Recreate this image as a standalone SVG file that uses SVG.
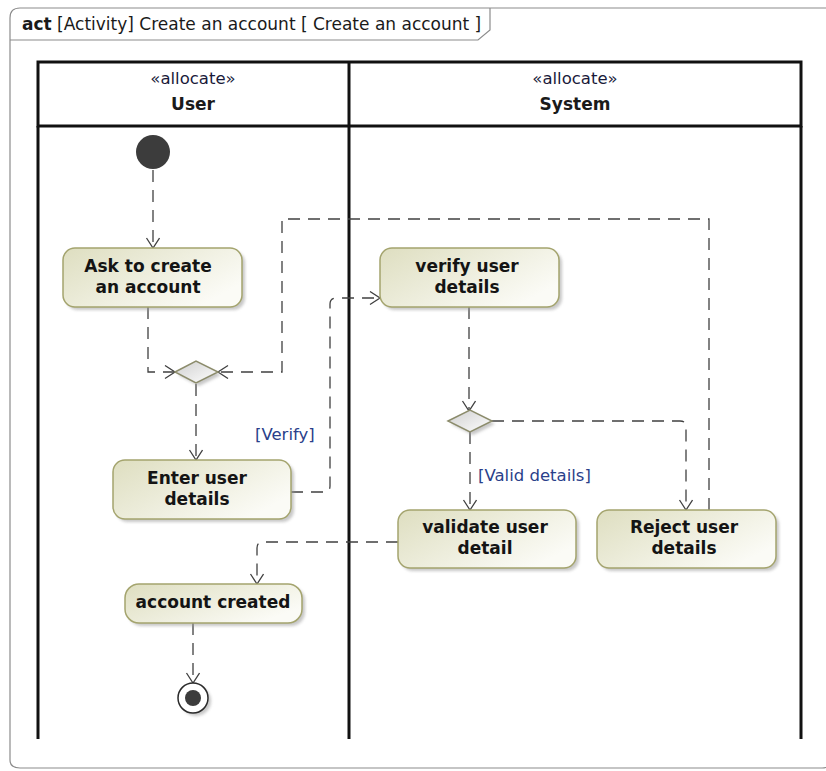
<svg xmlns="http://www.w3.org/2000/svg" width="826" height="771" viewBox="0 0 826 771">
<defs>
<linearGradient id="nodeGrad" x1="0" y1="0" x2="1" y2="0.6">
<stop offset="0" stop-color="#dedec0"/>
<stop offset="1" stop-color="#fbfbf6"/>
</linearGradient>
<linearGradient id="diaGrad" x1="0" y1="0" x2="1" y2="1">
<stop offset="0" stop-color="#cfcfcf"/>
<stop offset="1" stop-color="#ffffff"/>
</linearGradient>
<filter id="shadow" x="-10%" y="-10%" width="130%" height="140%">
<feGaussianBlur stdDeviation="1.5"/>
</filter>
<marker id="arrow" markerWidth="16" markerHeight="16" refX="11" refY="7" orient="auto" markerUnits="userSpaceOnUse">
<path d="M1,0.5 L11,7 L1,13.5" fill="none" stroke="#404040" stroke-width="1.3" stroke-dasharray="none"/>
</marker>
</defs>
<style>
.frame{fill:#ffffff;stroke:#8c8c8c;stroke-width:1.2}
.lane{fill:none;stroke:#111111;stroke-width:3}
.title{font-family:"DejaVu Sans",Verdana,sans-serif;font-size:17px;fill:#1a1a1a}
.stereo{font-family:"DejaVu Sans",Verdana,sans-serif;font-size:16.5px;fill:#1a1a3a;text-anchor:middle}
.lanename{font-family:"DejaVu Sans",Verdana,sans-serif;font-size:17px;font-weight:bold;fill:#1a1a1a;text-anchor:middle}
.node rect.body{fill:url(#nodeGrad);stroke:#a4a46e;stroke-width:1.5}
.node rect.sh{fill:#9a9a9a;opacity:0.55;filter:url(#shadow)}
.ntext{font-family:"DejaVu Sans",Verdana,sans-serif;font-size:17px;font-weight:bold;fill:#141414;text-anchor:middle}
.dia{fill:url(#diaGrad);stroke:#8c8c6c;stroke-width:1.5}
.diash{fill:#9a9a9a;opacity:0.55;filter:url(#shadow)}
.edge{fill:none;stroke:#404040;stroke-width:1.3;stroke-dasharray:12 8;marker-end:url(#arrow)}
.guard{font-family:"DejaVu Sans",Verdana,sans-serif;font-size:16.5px;fill:#2a3f8a}
</style>

<g id="frame">
<path class="frame" d="M10,760 L10,18 Q10,8 20,8 L830,8 L830,760 Q830,768 822,768 L20,768 Q10,768 10,760 Z"/>
<path fill="none" stroke="#8c8c8c" stroke-width="1.2" d="M10,40 L478,40 L490,30 L490,8"/>
<text class="title" x="22" y="30"><tspan font-weight="bold">act</tspan> [Activity] Create an account [ Create an account ]</text>
</g>

<g id="lanes">
<rect class="lane" x="38" y="62" width="763" height="64" fill="none"/>
<path class="lane" d="M38,126 L38,739 M349,62 L349,739 M801,126 L801,739"/>
<text class="stereo" x="193" y="84">«allocate»</text>
<text class="lanename" x="193" y="110">User</text>
<text class="stereo" x="575" y="84">«allocate»</text>
<text class="lanename" x="575" y="110">System</text>
</g>

<g id="edges">
<path class="edge" d="M153,170 L153,248"/>
<path class="edge" d="M148,307 L148,372 L175,372"/>
<path class="edge" d="M709,510 L709,219 L282,219 L282,372 L218,372"/>
<path class="edge" d="M196,384 L196,460"/>
<path class="edge" d="M291,492 L324,492 Q330,492 330,486 L330,304 Q330,298 336,298 L380,298"/>
<path class="edge" d="M469,307 L469,411"/>
<path class="edge" d="M470,432 L470,510"/>
<path class="edge" d="M492,421 L680,421 Q686,421 686,427 L686,510"/>
<path class="edge" d="M398,542 L263,542 Q257,542 257,548 L257,584"/>
<path class="edge" d="M193,623 L193,683"/>
<text class="guard" x="255" y="440">[Verify]</text>
<text class="guard" x="478" y="481">[Valid details]</text>
</g>

<g id="initial">
<circle cx="153" cy="152" r="17" fill="#3c3c3c"/>
</g>

<g id="ask" class="node">
<rect class="sh" x="66" y="251" width="179" height="59" rx="12"/>
<rect class="body" x="63" y="248" width="179" height="59" rx="12"/>
<text class="ntext" x="148" y="272">Ask to create</text>
<text class="ntext" x="148" y="293">an account</text>
</g>

<g id="merge">
<polygon class="diash" points="178,375 199,364 221,375 199,386"/>
<polygon class="dia" points="175,372 196,361 218,372 196,383"/>
</g>

<g id="enter" class="node">
<rect class="sh" x="116" y="463" width="178" height="59" rx="12"/>
<rect class="body" x="113" y="460" width="178" height="59" rx="12"/>
<text class="ntext" x="197" y="484">Enter user</text>
<text class="ntext" x="197" y="505">details</text>
</g>

<g id="verify" class="node">
<rect class="sh" x="383" y="251" width="179" height="59" rx="12"/>
<rect class="body" x="380" y="248" width="179" height="59" rx="12"/>
<text class="ntext" x="467" y="272">verify user</text>
<text class="ntext" x="467" y="293">details</text>
</g>

<g id="decision">
<polygon class="diash" points="451,424 473,413 495,424 473,435"/>
<polygon class="dia" points="448,421 470,410 492,421 470,432"/>
</g>

<g id="validate" class="node">
<rect class="sh" x="401" y="513" width="178" height="58" rx="12"/>
<rect class="body" x="398" y="510" width="178" height="58" rx="12"/>
<text class="ntext" x="485" y="533">validate user</text>
<text class="ntext" x="485" y="554">detail</text>
</g>

<g id="reject" class="node">
<rect class="sh" x="600" y="513" width="179" height="58" rx="12"/>
<rect class="body" x="597" y="510" width="179" height="58" rx="12"/>
<text class="ntext" x="684" y="533">Reject user</text>
<text class="ntext" x="684" y="554">details</text>
</g>

<g id="accountCreated" class="node">
<rect class="sh" x="128" y="587" width="177" height="39" rx="14"/>
<rect class="body" x="125" y="584" width="177" height="39" rx="14"/>
<text class="ntext" x="213" y="608">account created</text>
</g>

<g id="final">
<circle cx="196" cy="701" r="15" fill="#9a9a9a" opacity="0.55" filter="url(#shadow)"/>
<circle cx="193" cy="698" r="15" fill="#ffffff" stroke="#2a2a2a" stroke-width="1.5"/>
<circle cx="193" cy="698" r="8" fill="#3c3c3c"/>
</g>
</svg>
